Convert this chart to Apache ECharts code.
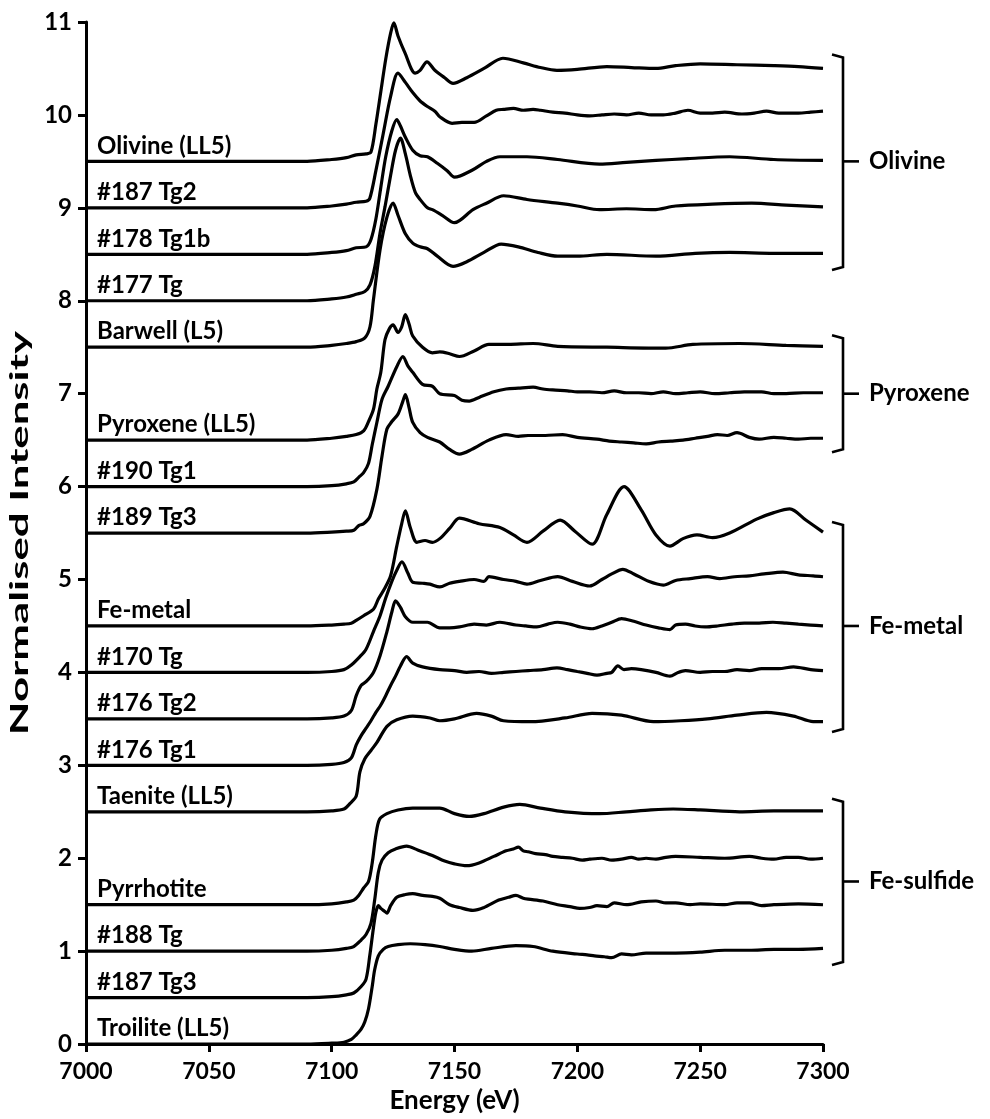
<!DOCTYPE html>
<html><head><meta charset="utf-8">
<script src="https://cdn.jsdelivr.net/npm/echarts/dist/echarts.min.js"></script>
<style>html,body{margin:0;padding:0;background:#fff;}#c{width:990px;height:1119px;}</style>
</head><body><div id="c"></div>
<script>
// ---- data ----
const curveNames = ['Troilite (LL5)','#187 Tg3','#188 Tg','Pyrrhotite','Taenite (LL5)','#176 Tg1','#176 Tg2','#170 Tg','Fe-metal','#189 Tg3','#190 Tg1','Pyroxene (LL5)','Barwell (L5)','#177 Tg','#178 Tg1b','#187 Tg2','Olivine (LL5)'];
const offsets = [0,0.5,1.0,1.5,2.5,3.0,3.5,4.0,4.5,5.5,6.0,6.5,7.5,8.0,8.5,9.0,9.5];

const troilite = [[7000,0],[7050,0],[7090,0],[7100,0.01],[7105,0.02],[7108,0.05],[7110,0.1],[7112,0.16],[7113.5,0.24],[7115,0.38],[7116.5,0.62],[7117.5,0.8],[7119,0.95],[7121,1.02],[7123,1.05],[7127,1.07],[7132,1.08],[7138,1.07],[7144,1.05],[7150,1.02],[7157,1.0],[7165,1.03],[7175,1.06],[7182,1.05],[7190,1.0],[7200,0.97],[7204,0.96],[7207,0.95],[7211,0.94],[7214,0.93],[7218,0.97],[7222,0.96],[7228,0.98],[7240,0.98],[7250,0.99],[7260,1.01],[7270,1.01],[7280,1.02],[7290,1.02],[7300,1.03]];
const tg187_3 = [[7000,0],[7090,0],[7100,0.01],[7106,0.03],[7109,0.05],[7112,0.12],[7114,0.2],[7115.5,0.45],[7117,0.75],[7118,0.92],[7119,0.99],[7120,0.96],[7121.5,0.93],[7122.5,0.91],[7124,0.99],[7126.5,1.08],[7130,1.11],[7133,1.12],[7137,1.1],[7141,1.09],[7144,1.07],[7148,1.0],[7152,0.97],[7157.5,0.94],[7162,0.97],[7168,1.05],[7172,1.08],[7175,1.1],[7178,1.07],[7180,1.06],[7186,1.04],[7192,1.0],[7197,0.98],[7201,0.96],[7205,0.97],[7208,0.99],[7212,0.98],[7215,1.02],[7220,1.0],[7226,1.03],[7232,1.04],[7236,1.02],[7240,1.02],[7246,1.0],[7250,1.01],[7260,1.0],[7265,1.02],[7270,1.02],[7275,0.99],[7280,1.0],[7290,1.01],[7300,1.0]];
const tg188 = [[7000,0],[7090,0],[7100,0.01],[7106,0.03],[7109,0.05],[7112,0.12],[7114,0.18],[7116,0.3],[7117.5,0.55],[7119,0.85],[7120.5,0.98],[7123,1.06],[7126,1.1],[7130.5,1.13],[7135,1.09],[7141,1.03],[7146,0.97],[7150,0.94],[7155,0.92],[7160,0.95],[7166,1.02],[7171,1.08],[7174,1.1],[7176,1.12],[7178,1.08],[7180,1.07],[7183,1.05],[7187,1.04],[7190,1.02],[7194,1.01],[7198,1.0],[7202,0.98],[7205,0.99],[7210,1.0],[7214,0.98],[7218,0.99],[7222,1.01],[7225,0.99],[7228,1.0],[7232,0.99],[7236,1.01],[7240,1.02],[7250,1.01],[7260,1.0],[7270,1.02],[7275,1.0],[7280,0.99],[7285,1.01],[7290,1.01],[7295,0.99],[7300,1.0]];
const pyrrhotite = [[7000,0],[7090,0],[7100,0.01],[7106,0.03],[7109,0.05],[7111,0.1],[7113,0.18],[7115,0.25],[7116.5,0.45],[7118,0.75],[7119.5,0.92],[7122.5,0.98],[7127,1.02],[7133,1.04],[7140,1.04],[7144,1.04],[7150,0.98],[7156,0.95],[7162,0.98],[7170,1.05],[7176.6,1.08],[7185,1.04],[7195,1.0],[7209,0.98],[7220,1.0],[7230,1.02],[7239,1.03],[7250,1.02],[7266,1.0],[7280,1.01],[7290,1.01],[7300,1.01]];
const taenite = [[7000,0],[7090,0],[7100,0.01],[7105,0.03],[7107.5,0.09],[7110,0.17],[7111.5,0.43],[7113.5,0.57],[7116,0.66],[7118.5,0.75],[7122.5,0.92],[7126.5,0.99],[7133,1.03],[7140,1.01],[7144,0.98],[7150,1.0],[7159,1.06],[7165,1.03],[7170,0.98],[7181,0.97],[7195,1.01],[7206,1.06],[7218,1.04],[7231,0.97],[7242,0.98],[7253,1.0],[7265,1.04],[7277,1.07],[7288,1.03],[7296,0.97],[7300,0.97]];
const tg176_1 = [[7000,0],[7090,0],[7100,0.01],[7105,0.03],[7108,0.08],[7110,0.22],[7112,0.32],[7114,0.4],[7116,0.48],[7118,0.57],[7120,0.65],[7122,0.75],[7124,0.86],[7126,0.96],[7128,1.07],[7130.5,1.17],[7133,1.1],[7137,1.06],[7144,1.03],[7150,1.02],[7155,1.0],[7160,1.01],[7165,0.99],[7170,1.0],[7175,1.01],[7180,1.02],[7186,1.03],[7191.7,1.05],[7196,1.03],[7200,1.01],[7204,0.99],[7208,0.97],[7212,0.99],[7214,1.0],[7216.5,1.07],[7219,1.03],[7222,1.04],[7226,1.03],[7232,1.0],[7237.7,0.96],[7241,1.0],[7244,1.02],[7250,1.0],[7255,1.01],[7260,1.01],[7265,1.03],[7270,1.02],[7275,1.04],[7282,1.04],[7288,1.06],[7295,1.03],[7300,1.02]];
const tg176_2 = [[7000,0],[7090,0],[7100,0.01],[7105,0.03],[7108,0.09],[7110,0.25],[7112,0.36],[7114,0.4],[7117,0.5],[7119.7,0.68],[7122.5,0.94],[7124.5,1.15],[7126,1.27],[7128,1.2],[7130,1.1],[7133,1.04],[7139,1.04],[7144,0.98],[7148,0.98],[7152,0.99],[7158,1.02],[7163,1.01],[7168.5,1.04],[7175,1.01],[7179,1.0],[7183.5,0.99],[7188,1.02],[7192,1.04],[7197,1.02],[7201,0.99],[7206,0.97],[7210,1.0],[7214,1.04],[7218,1.08],[7223,1.05],[7228,1.01],[7233,0.98],[7237.7,0.96],[7240,1.01],[7244,1.02],[7248,1.0],[7252,0.99],[7257,1.0],[7263,1.02],[7268,1.03],[7274,1.03],[7279.6,1.04],[7285,1.03],[7290,1.02],[7295,1.01],[7300,1.0]];
const tg170 = [[7000,0],[7090,0],[7100,0.01],[7105,0.03],[7108,0.08],[7111.5,0.17],[7114,0.25],[7117,0.44],[7119.7,0.61],[7122,0.8],[7124.5,0.98],[7126.5,1.1],[7128.6,1.19],[7131,1.07],[7133,0.97],[7137,0.96],[7140,0.95],[7144,0.92],[7148,0.96],[7152,0.98],[7158,1.0],[7162,0.98],[7164,1.03],[7170,1.0],[7175,0.98],[7179.5,0.95],[7185,0.99],[7192,1.03],[7198,0.98],[7205,0.93],[7210,1.0],[7214,1.06],[7218.5,1.11],[7223,1.06],[7229,0.98],[7235,0.94],[7240,0.99],[7246,1.01],[7253,1.03],[7258,1.01],[7264,1.03],[7270,1.04],[7276,1.06],[7283.7,1.08],[7290,1.05],[7296,1.04],[7300,1.03]];
const femetal = [[7000,0],[7090,0],[7100,0.01],[7105,0.02],[7108,0.03],[7110,0.06],[7113,0.11],[7117,0.18],[7119,0.29],[7121.5,0.4],[7124,0.54],[7126.5,0.86],[7128.5,1.1],[7130,1.24],[7132,1.06],[7134.7,0.9],[7138,0.92],[7141,0.9],[7144,0.94],[7148,1.05],[7152,1.16],[7160,1.1],[7168.5,1.06],[7174,0.98],[7179.5,0.9],[7186,1.02],[7193,1.14],[7199,1.02],[7206,0.88],[7212,1.2],[7219,1.5],[7226,1.25],[7232,0.98],[7237.7,0.86],[7243,0.94],[7248.7,0.98],[7255,0.95],[7262,1.0],[7273,1.15],[7280,1.22],[7286.5,1.26],[7293,1.14],[7300,1.01]];
const tg189_3 = [[7000,0],[7090,0],[7100,0.01],[7106,0.02],[7109,0.03],[7111,0.08],[7113,0.1],[7115.6,0.18],[7118.4,0.47],[7120.5,0.83],[7122.5,1.12],[7124.5,1.2],[7127,1.28],[7129,1.42],[7130,1.49],[7131.5,1.35],[7133,1.19],[7136,1.08],[7139,1.03],[7144,0.98],[7148,0.9],[7152,0.85],[7157,0.9],[7164,1.0],[7171,1.06],[7176,1.04],[7180,1.05],[7187,1.05],[7194,1.06],[7200,1.03],[7208,1.01],[7213,0.99],[7218,0.98],[7223,0.97],[7228,0.96],[7233,0.98],[7238,0.99],[7243,1.0],[7248,1.02],[7253,1.04],[7257,1.06],[7261,1.05],[7265,1.08],[7270,1.03],[7274,1.01],[7280,1.03],[7285,1.02],[7290,1.01],[7295,1.02],[7300,1.02]];
const tg190_1 = [[7000,0],[7090,0],[7100,0.01],[7106,0.03],[7109,0.05],[7111,0.1],[7113,0.15],[7115,0.25],[7116.5,0.45],[7118.4,0.69],[7120.5,0.94],[7123,1.08],[7126.5,1.29],[7129,1.4],[7131,1.3],[7133,1.23],[7137,1.1],[7141,1.08],[7144,1.0],[7150,0.98],[7153,0.93],[7156,0.92],[7160,0.96],[7166,1.02],[7171,1.05],[7176,1.06],[7182,1.07],[7186,1.05],[7190,1.04],[7196,1.03],[7200,1.02],[7205,1.02],[7210,1.01],[7215,1.03],[7220,1.01],[7225,1.01],[7230,1.0],[7235,1.02],[7240,1.0],[7245,1.01],[7250,1.02],[7256,1.0],[7262,1.01],[7268,1.02],[7275,1.02],[7280,1.0],[7285,1.0],[7292,1.01],[7300,1.01]];
const pyroxene = [[7000,0],[7090,0],[7100,0.02],[7106,0.04],[7110,0.06],[7113,0.1],[7115,0.2],[7117,0.33],[7118.4,0.55],[7120,0.73],[7121.7,1.08],[7123.5,1.2],[7125,1.24],[7127,1.16],[7128.5,1.22],[7130,1.35],[7131.5,1.25],[7133,1.12],[7137,1.0],[7141,0.94],[7144,0.95],[7148,0.93],[7152,0.9],[7158,0.96],[7164,1.03],[7172,1.03],[7182,1.04],[7192,1.01],[7212,1.0],[7236,0.99],[7247,1.03],[7266,1.04],[7285,1.02],[7300,1.01]];
const barwell = [[7000,0],[7090,0],[7100,0.02],[7106,0.04],[7110,0.06],[7113.5,0.1],[7115.6,0.22],[7117,0.51],[7119.7,1.05],[7122.5,1.4],[7125,1.55],[7127,1.42],[7130,1.22],[7133,1.12],[7136,1.08],[7139,1.06],[7143,0.98],[7149.4,0.87],[7155,0.92],[7162,1.02],[7169,1.11],[7176,1.08],[7184,1.02],[7192,0.98],[7200,0.98],[7212,1.0],[7232,0.98],[7248,1.01],[7262,1.02],[7280,1.01],[7300,1.01]];
const tg177 = [[7000,0],[7090,0],[7100,0.02],[7106,0.04],[7110,0.07],[7113.5,0.1],[7115.6,0.17],[7117.6,0.37],[7119.7,0.73],[7121.7,1.01],[7124,1.35],[7126,1.62],[7128,1.75],[7130,1.58],[7132,1.35],[7134,1.17],[7136,1.09],[7139,1.0],[7141,0.98],[7145,0.92],[7150,0.84],[7157.5,0.98],[7163,1.05],[7170,1.13],[7179.5,1.09],[7192,1.05],[7200,1.02],[7209,0.98],[7220,0.99],[7231,0.98],[7240,1.02],[7255,1.04],[7271,1.05],[7285,1.03],[7300,1.01]];
const tg178_1b = [[7000,0],[7090,0],[7100,0.02],[7106,0.04],[7110,0.07],[7114,0.08],[7116,0.16],[7118,0.38],[7120,0.72],[7122,1.05],[7124.5,1.33],[7126.5,1.45],[7128,1.38],[7130,1.26],[7133,1.12],[7136,1.06],[7139,1.05],[7143,0.98],[7147,0.9],[7150,0.83],[7157.5,0.91],[7163,1.0],[7168.5,1.05],[7179.5,1.05],[7192,1.02],[7209,0.97],[7220,0.99],[7232,1.01],[7245,1.03],[7262,1.05],[7280,1.02],[7300,1.01]];
const tg187_2 = [[7000,0],[7090,0],[7100,0.02],[7106,0.04],[7110,0.06],[7114,0.07],[7115.5,0.1],[7118,0.4],[7121,0.8],[7124,1.2],[7127,1.45],[7130,1.35],[7133,1.24],[7136,1.15],[7139,1.09],[7142,1.04],[7144,0.98],[7149,0.91],[7153,0.92],[7158,0.92],[7163,0.99],[7167,1.05],[7170,1.06],[7174,1.07],[7178,1.05],[7182,1.06],[7185,1.05],[7190,1.03],[7195,1.02],[7200,1.0],[7205,0.99],[7210,1.0],[7215,1.01],[7220,1.0],[7225,1.02],[7230,1.0],[7235,1.0],[7240,1.02],[7245,1.05],[7250,1.02],[7255,1.02],[7260,1.03],[7267,1.01],[7272,1.02],[7277,1.04],[7282,1.02],[7290,1.02],[7295,1.03],[7300,1.04]];
const olivine = [[7000,0],[7090,0],[7100,0.02],[7106,0.04],[7110,0.07],[7114,0.08],[7116,0.1],[7118,0.4],[7120,0.75],[7122,1.1],[7124,1.38],[7125.3,1.49],[7127,1.35],[7129.8,1.17],[7134,0.95],[7136,0.98],[7138.8,1.07],[7142,0.98],[7146,0.9],[7149.4,0.84],[7155,0.9],[7162,1.0],[7169.7,1.11],[7178,1.06],[7185,1.01],[7191.7,0.98],[7200,0.99],[7212,1.02],[7222,1.01],[7232,1.0],[7240,1.03],[7250,1.05],[7265,1.04],[7280,1.03],[7290,1.02],[7300,1.0]];
const spectra = [troilite,tg187_3,tg188,pyrrhotite,taenite,tg176_1,tg176_2,tg170,femetal,tg189_3,tg190_1,pyroxene,barwell,tg177,tg178_1b,tg187_2,olivine];

const groupNames = ['Olivine','Pyroxene','Fe-metal','Fe-sulfide'];
const groupTop = [10.65,7.63,5.62,2.64];
const groupBottom = [8.33,6.37,3.36,0.85];
const groupMid = [9.5,7.0,4.5,1.75];

const xMin = 7000, xMax = 7300, xStep = 50;
const yMin = 0, yMax = 11, yStep = 1;
const labelX = 7004.5;

// ---- chart ----
const FONT = 'Lato, "Open Sans", sans-serif';
const chart = echarts.init(document.getElementById('c'));
const series = spectra.map((s,i)=>({
  type:'line', name:curveNames[i], data:s.map(p=>[p[0], +(p[1]+offsets[i]).toFixed(3)]),
  showSymbol:false, smooth:0.3, silent:true,
  lineStyle:{color:'#000', width:3.2}, z:2
}));
series.push({
  type:'scatter', symbolSize:1, itemStyle:{color:'transparent', opacity:1}, silent:true, z:3,
  data: curveNames.map((n,i)=>({name:n, value:[labelX, offsets[i]]})),
  label:{show:true, formatter:'{b}', position:'top', align:'left', distance:3,
    fontFamily:FONT, fontWeight:'bold', fontSize:24, color:'#000', opacity:1}
});
chart.setOption({
  animation:false,
  backgroundColor:'#fff',
  grid:{left:86, right:167, top:22, bottom:73},
  xAxis:{type:'value', min:xMin, max:xMax, interval:xStep,
    name:'Energy (eV)', nameLocation:'middle', nameGap:42,
    nameTextStyle:{fontFamily:FONT, fontWeight:'bold', fontSize:26, color:'#000'},
    axisLine:{show:true, onZero:false, lineStyle:{color:'#000', width:3}},
    axisTick:{show:true, inside:false, length:8, lineStyle:{color:'#000', width:3}},
    axisLabel:{fontFamily:FONT, fontWeight:'bold', fontSize:23, color:'#000', margin:16,
      formatter:v=>String(v)},
    splitLine:{show:false}},
  yAxis:{type:'value', min:yMin, max:yMax, interval:yStep,
    axisLine:{show:true, onZero:false, lineStyle:{color:'#000', width:3}},
    axisTick:{show:true, inside:false, length:8, lineStyle:{color:'#000', width:3}},
    axisLabel:{fontFamily:FONT, fontWeight:'bold', fontSize:24, color:'#000', margin:14,
      formatter:v=>String(v)},
    splitLine:{show:false}},
  series:series
});

const g = [];
groupNames.forEach((n,i)=>{
  const yT = chart.convertToPixel({gridIndex:0},[xMax, groupTop[i]])[1];
  const yB = chart.convertToPixel({gridIndex:0},[xMax, groupBottom[i]])[1];
  const yM = chart.convertToPixel({gridIndex:0},[xMax, groupMid[i]])[1];
  g.push({type:'polyline', silent:true, shape:{points:[[832,yT],[843,yT+3],[843,yB-3],[832,yB]]}, style:{stroke:'#000', lineWidth:2.6, fill:null}});
  g.push({type:'line', silent:true, shape:{x1:843,y1:yM,x2:859,y2:yM}, style:{stroke:'#000', lineWidth:2.6}});
  g.push({type:'text', silent:true, x:869, y:yM, style:{text:n, font:'bold 24px '+FONT, fill:'#000', verticalAlign:'middle', align:'left'}});
});
const yMidPx = chart.convertToPixel({gridIndex:0},[xMin, (yMin+yMax)/2])[1];
g.push({type:'text', silent:true, x:20, y:yMidPx, rotation:Math.PI/2, scaleX:1.75,
  style:{text:'Normalised Intensity', font:'bold 25px '+FONT, fill:'#000', verticalAlign:'middle', align:'center'}});
chart.setOption({graphic:g});
</script></body></html>
